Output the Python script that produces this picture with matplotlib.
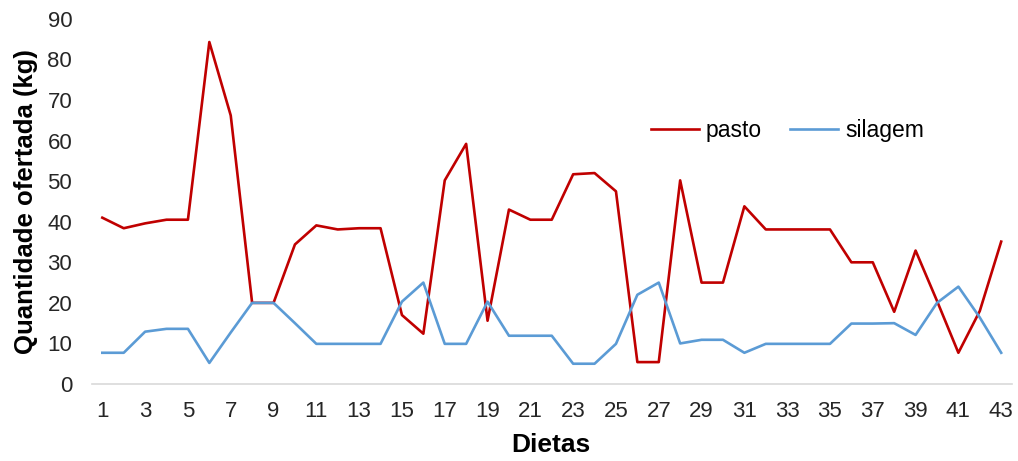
import numpy as np
import matplotlib
matplotlib.use("Agg")
import matplotlib.pyplot as plt

plt.rcParams['font.family'] = ['Liberation Sans', 'DejaVu Sans']

dietas = np.arange(1, 44)
pasto = [41, 38.4, 39.6, 40.5, 40.5, 84.3, 66.2, 20, 20, 34.4,
         39.1, 38.1, 38.4, 38.4, 17, 12.4, 50.2, 59.2, 15.6, 43,
         40.5, 40.5, 51.7, 52, 47.5, 5.4, 5.4, 50.2, 25, 25,
         43.8, 38.1, 38.1, 38.1, 38.1, 30, 30, 17.8, 32.9, 20.5,
         7.7, 18, 35.1]
silagem = [7.7, 7.7, 12.9, 13.6, 13.6, 5.2, 12.7, 20, 20, 15,
           9.9, 9.9, 9.9, 9.9, 20.3, 25, 9.9, 9.9, 20.3, 11.9,
           11.9, 11.9, 5, 5, 9.9, 22, 25, 10, 10.9, 10.9,
           7.7, 9.9, 9.9, 9.9, 9.9, 14.9, 14.9, 15, 12.1, 20,
           24, 16.4, 7.7]
xticks = list(range(1, 44, 2))
yticks = list(range(0, 91, 10))

fig = plt.figure(figsize=(10.18, 4.61), dpi=100)
ax = fig.add_axes([0.090, 0.167, 0.904, 0.792])

ax.plot(dietas, pasto, color='#C00000', lw=1.9, label='pasto')
ax.plot(dietas, silagem, color='#5B9BD5', lw=1.9, label='silagem')

ax.set_xlim(0.5, 43.5)
ax.set_ylim(0, 90)
ax.set_xticks(xticks)
ax.set_yticks(yticks)
ax.tick_params(axis='both', length=0, labelsize=16, colors='#262626')
ax.tick_params(axis='x', pad=12)
ax.tick_params(axis='y', pad=14)

for s in ['top', 'right', 'left']:
    ax.spines[s].set_visible(False)
ax.spines['bottom'].set_color('#d9d9d9')
ax.spines['bottom'].set_linewidth(1.2)

ax.set_ylabel('Quantidade ofertada (kg)', fontsize=18.5, fontweight='bold')
ax.yaxis.set_label_coords(-0.0587, 0.5)
ax.set_xlabel('Dietas', fontsize=19, fontweight='bold')
ax.xaxis.set_label_coords(0.499, -0.134)

fig.legend(loc='center left', bbox_to_anchor=(0.6395, 0.716), ncol=2,
           frameon=False, fontsize=16.5, handlelength=2.1, handletextpad=0.28,
           columnspacing=1.25, borderpad=0, borderaxespad=0)

fig.savefig('out.png', dpi=100)
